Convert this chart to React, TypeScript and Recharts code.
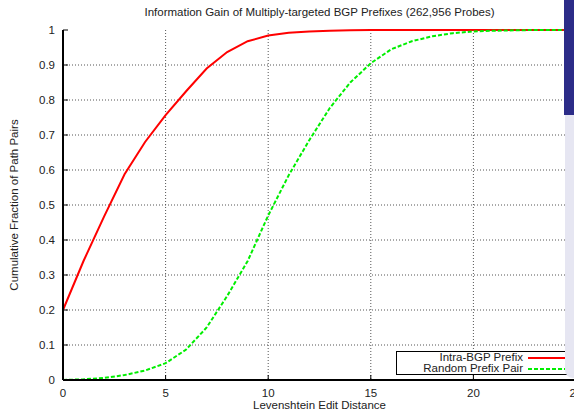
import React from "react";
import {
  CartesianGrid,
  Label,
  Line,
  LineChart,
  XAxis,
  YAxis,
} from "recharts";

const distances = [
  0, 1, 2, 3, 4, 5, 6, 7, 8, 9, 10, 11, 12, 13, 14, 15, 16, 17, 18, 19, 20, 21,
  22, 23, 24, 25,
];
const intraBgp = [
  0.2, 0.34, 0.467, 0.588, 0.68, 0.757, 0.825, 0.89, 0.937, 0.968, 0.984,
  0.992, 0.996, 0.998, 0.999, 1, 1, 1, 1, 1, 1, 1, 1, 1, 1, 1,
];
const randomPair = [
  0, 0.002, 0.006, 0.014, 0.027, 0.048, 0.087, 0.15, 0.24, 0.34, 0.47, 0.585,
  0.685, 0.777, 0.85, 0.905, 0.945, 0.968, 0.982, 0.991, 0.996, 0.998, 0.999,
  1, 1, 1,
];
const xTicks = [0, 5, 10, 15, 20, 25];
const yTicks = [0, 0.1, 0.2, 0.3, 0.4, 0.5, 0.6, 0.7, 0.8, 0.9, 1];
const seriesNames = ["Intra-BGP Prefix", "Random Prefix Pair"];

const FONT = "'Liberation Sans', Arial, sans-serif";
const FS = 11.5;

const data = distances.map((d, i) => ({
  d,
  intra: intraBgp[i],
  random: randomPair[i],
}));

const legendItems = [
  { name: seriesNames[0], color: "#ff0000", dash: undefined },
  { name: seriesNames[1], color: "#00ee00", dash: "4 2" },
];

const App = () => {
  return (
    <div
      style={{
        position: "fixed",
        left: 0,
        top: 0,
        width: 574,
        height: 414,
        overflow: "hidden",
        background: "#fff",
        fontFamily: FONT,
      }}
    >
      <div
        style={{
          position: "absolute",
          top: 6,
          left: 63,
          width: 513,
          textAlign: "center",
          fontSize: FS,
          color: "#222",
        }}
      >
        Information Gain of Multiply-targeted BGP Prefixes (262,956 Probes)
      </div>
      <LineChart
        width={600}
        height={414}
        data={data}
        margin={{ top: 30, right: 24, bottom: 4, left: 0 }}
      >
        <CartesianGrid
          stroke="#555"
          strokeDasharray="1 2"
          horizontalValues={yTicks.slice(1, -1)}
          verticalValues={xTicks.slice(1, -1)}
        />
        <XAxis
          dataKey="d"
          type="number"
          domain={[0, 25]}
          ticks={xTicks}
          height={30}
          tickSize={-5}
          tickMargin={14}
          interval={0}
          axisLine={{ stroke: "#000", strokeWidth: 2 }}
          tickLine={{ stroke: "#000" }}
          tick={{ fill: "#222", fontSize: FS, fontFamily: FONT }}
        >
          <Label
            value="Levenshtein Edit Distance"
            position="insideBottom"
            offset={0}
            dy={-1}
            style={{ fill: "#222", fontSize: FS, fontFamily: FONT }}
          />
        </XAxis>
        <XAxis
          xAxisId="top"
          dataKey="d"
          type="number"
          orientation="top"
          domain={[0, 25]}
          ticks={xTicks}
          height={0}
          tickSize={-5}
          tick={false}
          axisLine={{ stroke: "#000", strokeWidth: 1.5 }}
          tickLine={{ stroke: "#000" }}
        />
        <YAxis
          type="number"
          domain={[0, 1]}
          ticks={yTicks}
          width={63}
          tickSize={-5}
          tickMargin={13}
          interval={0}
          axisLine={{ stroke: "#000", strokeWidth: 2 }}
          tickLine={{ stroke: "#000" }}
          tick={{ fill: "#222", fontSize: FS, fontFamily: FONT }}
        >
          <Label
            value="Cumulative Fraction of Path Pairs"
            angle={-90}
            position="insideLeft"
            offset={14}
            style={{
              fill: "#222",
              fontSize: FS,
              fontFamily: FONT,
              textAnchor: "middle",
            }}
          />
        </YAxis>
        <Line
          dataKey="intra"
          stroke="#ff0000"
          strokeWidth={2}
          dot={false}
          isAnimationActive={false}
        />
        <Line
          dataKey="random"
          stroke="#00ee00"
          strokeWidth={2}
          strokeDasharray="4 2"
          dot={false}
          isAnimationActive={false}
        />
      </LineChart>
      {/* legend box */}
      <div
        style={{
          position: "absolute",
          left: 396,
          top: 351,
          width: 200,
          height: 22,
          border: "1px solid #000",
          background: "#fff",
          fontSize: FS,
          color: "#222",
        }}
      >
        {legendItems.map((it) => (
          <div
            key={it.name}
            style={{ display: "flex", alignItems: "center", height: 11 }}
          >
            <span style={{ width: 126, textAlign: "right", lineHeight: "11px" }}>
              {it.name}
            </span>
            <svg width={40} height={11} style={{ marginLeft: 5 }}>
              <line
                x1={0}
                x2={40}
                y1={6}
                y2={6}
                stroke={it.color}
                strokeWidth={2}
                strokeDasharray={it.dash}
              />
            </svg>
          </div>
        ))}
      </div>
      {/* screenshot edge artifact */}
      <div
        style={{
          position: "absolute",
          left: 564,
          top: 0,
          width: 10,
          height: 115,
          background: "#2c2c88",
        }}
      />
      <div
        style={{
          position: "absolute",
          left: 565,
          top: 115,
          width: 9,
          height: 263,
          background: "#e6e6f2",
          borderBottomLeftRadius: 8,
        }}
      />
    </div>
  );
};

export default App;
